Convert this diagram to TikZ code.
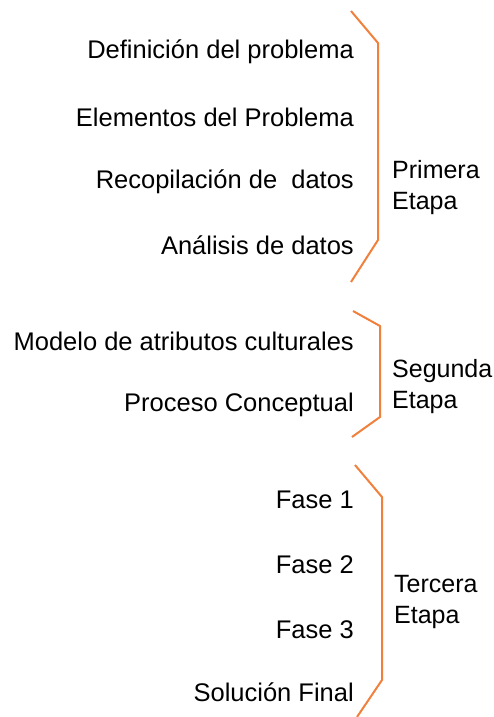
\documentclass[tikz,border=0pt]{standalone}
\usepackage{fontspec}
\setmainfont{Liberation Sans}
\definecolor{braceorange}{HTML}{F0803C}
\begin{document}
\begin{tikzpicture}[x=1pt,y=-1pt,
  item/.style={anchor=east,inner sep=0pt,font=\fontsize{25.5}{30}\selectfont},
  stage/.style={anchor=west,align=left,inner sep=0pt,font=\fontsize{25}{31}\selectfont},
  bracket/.style={draw=braceorange,line width=2pt,line join=miter}]
\useasboundingbox (0,0) rectangle (494,717);
% first stage
\node[item] (d1) at (354,52) {Definición del problema};
\node[item] (d2) at (354,117) {Elementos del Problema};
\node[item] (d3) at (354,182) {Recopilación de\ \ datos};
\node[item] (d4) at (354,245) {Análisis de datos};
\draw[bracket] (351,11) -- (378,43) -- (378,240) -- (351,282);
\node[stage] (s1) at (392,188) {Primera\\Etapa};
% second stage
\node[item] (m1) at (354,341) {Modelo de atributos culturales};
\node[item] (m2) at (354,405) {Proceso Conceptual};
\draw[bracket] (353,311) -- (380,326) -- (380,417) -- (352,437);
\node[stage] (s2) at (392,387) {Segunda\\Etapa};
% third stage
\node[item] (f1) at (354,500) {Fase 1};
\node[item] (f2) at (354,565) {Fase 2};
\node[item] (f3) at (354,630) {Fase 3};
\node[item] (f4) at (354,692) {Solución Final};
\draw[bracket] (355,465) -- (382,497) -- (382,680) -- (357,717);
\node[stage] (s3) at (394,602) {Tercera\\Etapa};
\end{tikzpicture}
\end{document}
